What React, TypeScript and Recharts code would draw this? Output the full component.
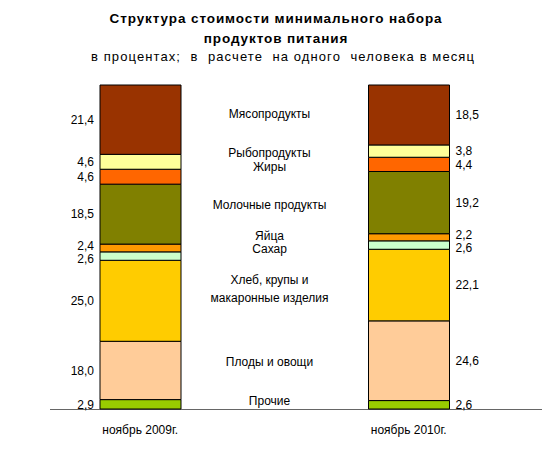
import { BarChart, Bar, XAxis, YAxis, LabelList } from "recharts";

const periods = ["ноябрь 2009г.", "ноябрь 2010г."];

// снизу вверх, как в стопке
const groups = [
  "Прочие",
  "Плоды и овощи",
  "Хлеб, крупы и\nмакаронные изделия",
  "Сахар",
  "Яйца",
  "Молочные продукты",
  "Жиры",
  "Рыбопродукты",
  "Мясопродукты",
];
const share2009 = [2.9, 18.0, 25.0, 2.6, 2.4, 18.5, 4.6, 4.6, 21.4];
const share2010 = [2.6, 24.6, 22.1, 2.6, 2.2, 19.2, 4.4, 3.8, 18.5];
const colors = [
  "#99CC00",
  "#FFCC99",
  "#FFCC00",
  "#CCFFCC",
  "#FF9900",
  "#808000",
  "#FF6600",
  "#FFFF99",
  "#993300",
];

const W = 558;
const H = 450;
const AXIS_H = 41;
const M = { top: 85, right: 15, bottom: 0, left: 6 };
const FONT = "'Liberation Sans', Arial, sans-serif";

const data = periods.map((p, pi) => {
  const row: Record<string, string | number> = { name: p };
  groups.forEach((_, gi) => {
    row["g" + gi] = pi === 0 ? share2009[gi] : share2010[gi];
  });
  return row;
});

const fmt = (v: number) => v.toFixed(1).replace(".", ",");
const sum = (arr: number[], n: number) =>
  arr.slice(0, n).reduce((s, v) => s + v, 0);

// раздвигаем подписи, чтобы не налезали (в процентах шкалы)
const GAP = 13 / ((H - M.top - AXIS_H) / 100);
const spread = (mids: number[]) => {
  const p = [...mids];
  for (let i = 1; i < p.length; i++) {
    const diff = p[i] - p[i - 1];
    if (diff < GAP) {
      const d = (GAP - diff) / 2;
      p[i - 1] -= d;
      p[i] += d;
    }
  }
  return p;
};
const mids09 = groups.map((_, gi) => sum(share2009, gi) + share2009[gi] / 2);
const mids10 = groups.map((_, gi) => sum(share2010, gi) + share2010[gi] / 2);
const pos09 = spread(mids09);
const pos10 = spread(mids10);
const posMid = spread(mids09.map((m, i) => (m + mids10[i]) / 2 + 1.2));

const makeLabel = (gi: number) => (props: any) => {
  const x = Number(props.x);
  const y = Number(props.y);
  const w = Number(props.width);
  const h = Number(props.height);
  const vals = props.index === 0 ? share2009 : share2010;
  const px = h / vals[gi];
  const bottom = y + h + sum(vals, gi) * px;
  const at = (pct: number) => bottom - pct * px;
  if (props.index === 0) {
    return (
      <text x={x - 6} y={at(pos09[gi])} dy="0.35em" textAnchor="end" fontSize={12} fontFamily={FONT} fill="#000">
        {fmt(share2009[gi])}
      </text>
    );
  }
  const plotW = W - M.left - M.right;
  const cx = M.left + plotW / 2 - 5;
  const lines = groups[gi].split("\n");
  const cy = at(posMid[gi]) - ((lines.length - 1) * 18) / 2;
  return (
    <g>
      <text x={x + w + 6} y={at(pos10[gi])} dy="0.35em" textAnchor="start" fontSize={12} fontFamily={FONT} fill="#000">
        {fmt(share2010[gi])}
      </text>
      <text x={cx} y={cy} textAnchor="middle" fontSize={12} fontFamily={FONT} fill="#000">
        {lines.map((l, li) => (
          <tspan key={li} x={cx} dy={li === 0 ? "0.35em" : 18}>
            {l}
          </tspan>
        ))}
      </text>
    </g>
  );
};

export default function App() {
  return (
    <div
      style={{
        position: "absolute",
        left: 0,
        top: 0,
        width: W,
        height: H,
        background: "#fff",
        fontFamily: FONT,
      }}
    >
      <div
        style={{
          position: "absolute",
          top: 9,
          left: 0,
          width: W,
          textAlign: "center",
          fontWeight: "bold",
          fontSize: 13.5,
          letterSpacing: 0.9,
          lineHeight: "20px",
        }}
      >
        <div style={{ marginLeft: -6 }}>Структура стоимости минимального набора</div>
        <div style={{ marginLeft: -6 }}>продуктов питания</div>
      </div>
      <div
        style={{
          position: "absolute",
          top: 49,
          left: 0,
          width: W,
          textAlign: "center",
          fontSize: 13,
          letterSpacing: 1.1,
          whiteSpace: "pre",
          marginLeft: 4,
        }}
      >
        {"в процентах;  в  расчете  на одного  человека в месяц"}
      </div>
      <div
        style={{
          position: "absolute",
          left: 50,
          top: 409,
          width: 492,
          height: 1,
          background: "#666",
        }}
      />
      <div style={{ position: "absolute", left: 0, top: 0 }}>
        <BarChart width={W} height={H} data={data} margin={M} barSize={81}>
          <YAxis hide domain={[0, 100]} />
          <XAxis
            dataKey="name"
            axisLine={false}
            tickLine={false}
            tickSize={14}
            height={AXIS_H}
            tick={{ fontSize: 12, fill: "#000", fontFamily: FONT }}
          />
          {groups.map((g, gi) => (
            <Bar
              key={g}
              dataKey={"g" + gi}
              stackId="s"
              fill={colors[gi]}
              stroke="#000"
              strokeWidth={1}
              isAnimationActive={false}
            >
              <LabelList dataKey={"g" + gi} content={makeLabel(gi)} />
            </Bar>
          ))}
        </BarChart>
      </div>
    </div>
  );
}
